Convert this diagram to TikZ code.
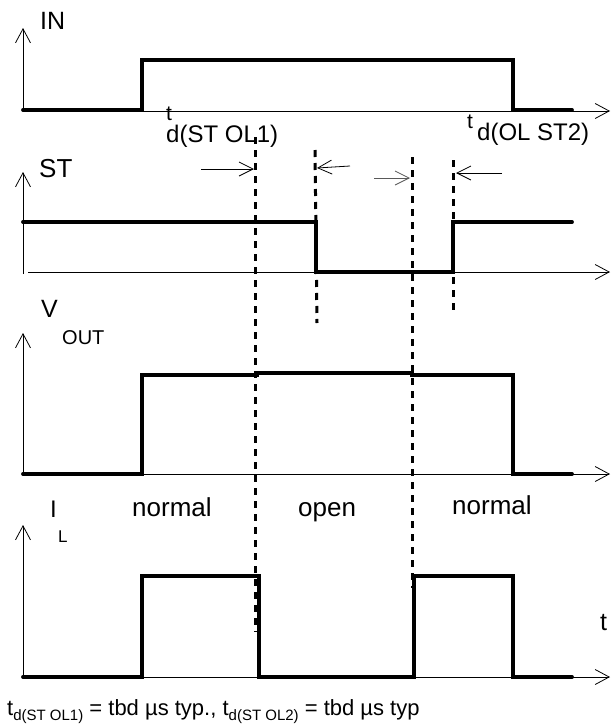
\documentclass[tikz,border=0pt]{standalone}
\usepackage{fontspec}
\setmainfont{Liberation Sans}
\usetikzlibrary{arrows.meta}
\begin{document}
\begin{tikzpicture}[x=1pt,y=-1pt,
  axisline/.style={line width=0.8pt,-{Straight Barb[length=14pt,width=15pt,line width=0.8pt]}},
  sig/.style={line width=3.8pt,line cap=round,line join=miter},
  guide/.style={line width=3pt,dash pattern=on 7pt off 6pt},
  marker/.style={line width=0.8pt,-{Straight Barb[length=14pt,width=14pt,line width=0.8pt]}},
  lbl/.style={anchor=base west,inner sep=0pt,font=\fontsize{#1}{#1}\selectfont}]
\useasboundingbox (0,0) rectangle (611,726);

% ---------- axes ----------
\coordinate (inO) at (23,111);  \coordinate (inY) at (23,28);  \coordinate (inX) at (610,111);
\coordinate (stO) at (23,274);  \coordinate (stY) at (23,172); \coordinate (stS) at (28,272); \coordinate (stX) at (610,272);
\coordinate (voO) at (23,474);  \coordinate (voY) at (23,333); \coordinate (voX) at (610,474);
\coordinate (ilO) at (23,677);  \coordinate (ilY) at (23,525); \coordinate (ilX) at (610,677);
\draw[axisline] (inO) -- (inY);
\draw[axisline] (inO) -- (inX);
\draw[axisline] (stO) -- (stY);
\draw[axisline] (stS) -- (stX);
\draw[axisline] (voO) -- (voY);
\draw[axisline] (voO) -- (voX);
\draw[axisline] (ilO) -- (ilY);
\draw[axisline] (ilO) -- (ilX);

% ---------- dotted guides ----------
\coordinate (g1a) at (255,137); \coordinate (g1b) at (255,632);
\coordinate (g2a) at (315,150); \coordinate (g2b) at (317,323);
\coordinate (g3a) at (412,157); \coordinate (g3b) at (412,588);
\coordinate (g4a) at (453,160); \coordinate (g4b) at (453,315);
\draw[guide] (g1a) -- (g1b);
\draw[guide] (g2a) -- (g2b);
\draw[guide] (g3a) -- (g3b);
\draw[guide] (g4a) -- (g4b);

% ---------- signals ----------
\draw[sig] (23,110) -- (142,110) -- (142,60) -- (513,60) -- (513,110) -- (572,110);
\draw[sig] (23,222) -- (316,222) -- (316,272) -- (453,272) -- (453,222) -- (572,222);
\draw[sig] (23,474) -- (142,474) -- (142,375) -- (257,375) -- (257,373) -- (412,373) -- (412,375) -- (513,375) -- (513,474) -- (572,474);
\draw[sig] (23,677) -- (142,677) -- (142,576) -- (259,576) -- (259,677) -- (414,677) -- (414,576) -- (513,576) -- (513,677) -- (572,677);

% ---------- delay markers ----------
\coordinate (m1a) at (201,169); \coordinate (m1b) at (254,169);
\coordinate (m2a) at (350,166); \coordinate (m2b) at (317,168);
\coordinate (m3a) at (374,178); \coordinate (m3b) at (410,178);
\coordinate (m4a) at (502,173); \coordinate (m4b) at (456,173);
\draw[marker] (m1a) -- (m1b);
\draw[marker] (m2a) -- (m2b);
\draw[marker,black!65] (m3a) -- (m3b);
\draw[marker] (m4a) -- (m4b);

% ---------- labels ----------
\node[lbl=25] (lIN) at (40,29) {IN};
\node[lbl=26] (lST) at (39,177) {ST};
\node[lbl=25] (lV) at (41,317) {V};
\node[lbl=20] (lOUT) at (62,344) {OUT};
\node[lbl=24] (lI) at (50,517) {I};
\node[lbl=17] (lL) at (58,542) {L};
\node[lbl=21] (lt1) at (166,120) {t};
\node[lbl=24] (ld1) at (166,142) {d(ST OL1)};
\node[lbl=21] (lt2) at (467,128) {t};
\node[lbl=24] (ld2) at (477,140) {d(OL ST2)};
\node[lbl=26] (ln1) at (132,516) {normal};
\node[lbl=26] (lop) at (298,516) {open};
\node[lbl=26] (ln2) at (452,514) {normal};
\node[lbl=25] (lt) at (600,630) {t};
\node[lbl=22] (foot) at (7,715) {t\raisebox{-5pt}{\fontsize{15}{15}\selectfont d(ST OL1)} = tbd µs typ., t\raisebox{-5pt}{\fontsize{15}{15}\selectfont d(ST OL2)} = tbd µs typ};
\end{tikzpicture}
\end{document}
